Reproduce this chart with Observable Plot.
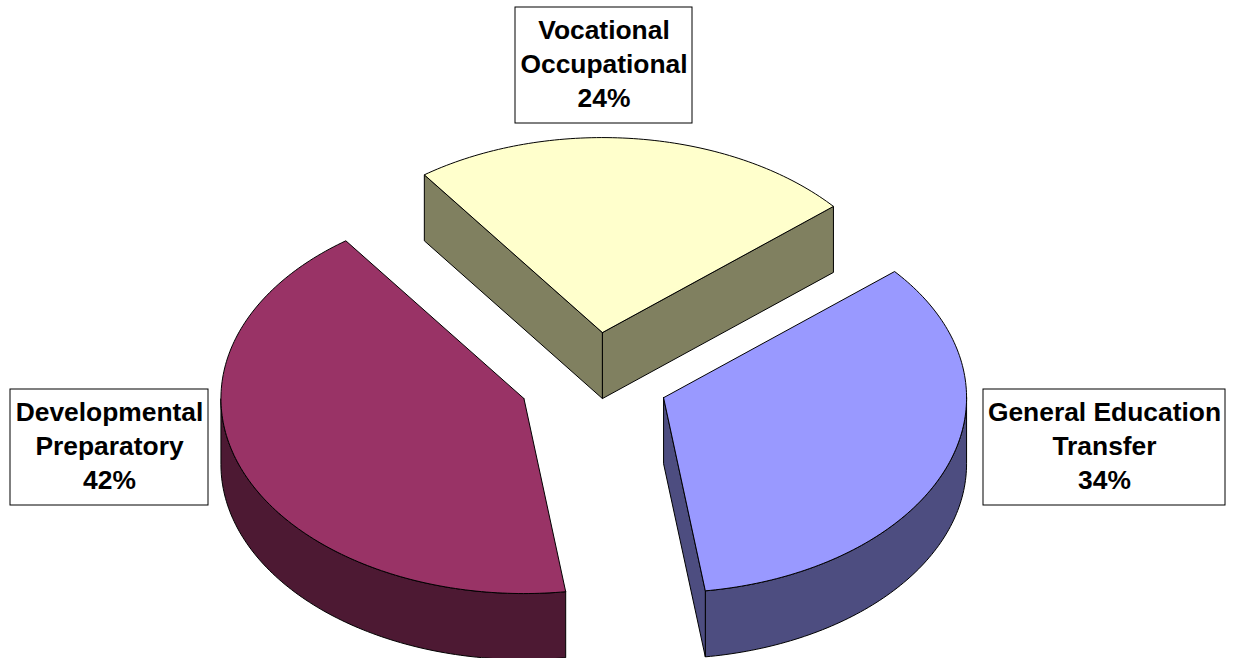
<!DOCTYPE html>
<html>
<head>
<meta charset="utf-8">
<style>html,body{margin:0;padding:0;background:#fff;overflow:hidden}svg{display:block}</style>
<script src="https://cdn.jsdelivr.net/npm/d3@7"></script>
<script src="https://cdn.jsdelivr.net/npm/@observablehq/plot@0.6"></script>
</head>
<body>
<script>
// Data, in drawing order (clockwise from the start angle)
const categories = ["Vocational Occupational", "General Education Transfer", "Developmental Preparatory"];
const values = [23.8, 34, 42.2];
const labelNames = [
  ["Vocational", "Occupational"],
  ["General Education", "Transfer"],
  ["Developmental", "Preparatory"]
];
const topColors = ["#FFFFCC", "#9999FF", "#993366"];
const sideColors = ["#808060", "#4D4D80", "#4D1933"];

// Pie layout
const W = 1233, H = 658;
const cx = 593, cy = 380, rx = 303, ry = 195, depth = 66, explode = 75, startDeg = -36;
const labelBoxes = [[515, 7, 692, 123], [983, 389, 1225, 505], [10, 389, 208, 505]];

const rad = d => d * Math.PI / 180;
const total = d3.sum(values);
let acc = startDeg;
const slices = values.map((v, i) => {
  const a0 = acc, a1 = acc + v / total * 360;
  acc = a1;
  const m = rad((a0 + a1) / 2);
  return {i, a0, a1, ox: cx + explode * Math.sin(m), oy: cy - explode * Math.cos(m) * ry / rx};
});
const pt = (s, deg, dz = 0) => [s.ox + rx * Math.sin(rad(deg)), s.oy - ry * Math.cos(rad(deg)) + dz];
const arc = (s, from, to, dz = 0) => {
  const n = Math.max(2, Math.ceil(Math.abs(to - from)));
  return d3.range(n + 1).map(k => pt(s, from + (to - from) * k / n, dz));
};

// polygons in painter's order
const polys = [];
let nextId = 0;
const add = (points, color) => {
  const id = nextId++;
  [...points, points[0]].forEach(p => polys.push({id, x: p[0], y: p[1], color}));
};
const apex = (s, dz = 0) => [s.ox, s.oy + dz];
const norm = d => ((d % 360) + 360) % 360;
for (const s of slices) {
  const side = sideColors[s.i], top = topColors[s.i];
  // outer wall: the part of the rim on the front half (90..270 degrees from top)
  const lo = Math.max(s.a0, 90), hi = Math.min(s.a1, 270);
  if (hi > lo) add([...arc(s, lo, hi), ...arc(s, hi, lo, depth)], side);
  // a radial wall shows only when the top face lies above its edge
  const wall = deg => add([apex(s), pt(s, deg), pt(s, deg, depth), apex(s, depth)], side);
  if (norm(s.a0) > 180) wall(s.a0);
  if (norm(s.a1) < 180) wall(s.a1);
  add([apex(s), ...arc(s, s.a0, s.a1)], top);
}

const labels = [];
labelNames.forEach((names, i) => [...names, `${Math.round(values[i])}%`].forEach((t, j) => {
  const b = labelBoxes[i];
  labels.push({t, x: (b[0] + b[2]) / 2, y: b[1] + 23 + j * 34});
}));
const boxes = labelBoxes.map(b => ({x1: b[0], y1: b[1], x2: b[2], y2: b[3]}));

const chart = Plot.plot({
  width: W, height: H,
  margin: 0,
  x: {type: "identity", axis: null},
  y: {type: "identity", axis: null},
  color: {type: "identity"},
  marks: [
    Plot.line(polys, {x: "x", y: "y", z: "id", fill: "color", stroke: "#000", strokeWidth: 1, curve: "linear"}),
    Plot.rect(boxes, {x1: "x1", y1: "y1", x2: "x2", y2: "y2", fill: "#fff", stroke: "#000", strokeWidth: 1}),
    Plot.text(labels, {x: "x", y: "y", text: "t", fontFamily: "Liberation Sans", fontWeight: "bold", fontSize: 26.4, fill: "#000", textAnchor: "middle"})
  ]
});
document.body.appendChild(chart);
</script>
</body>
</html>
